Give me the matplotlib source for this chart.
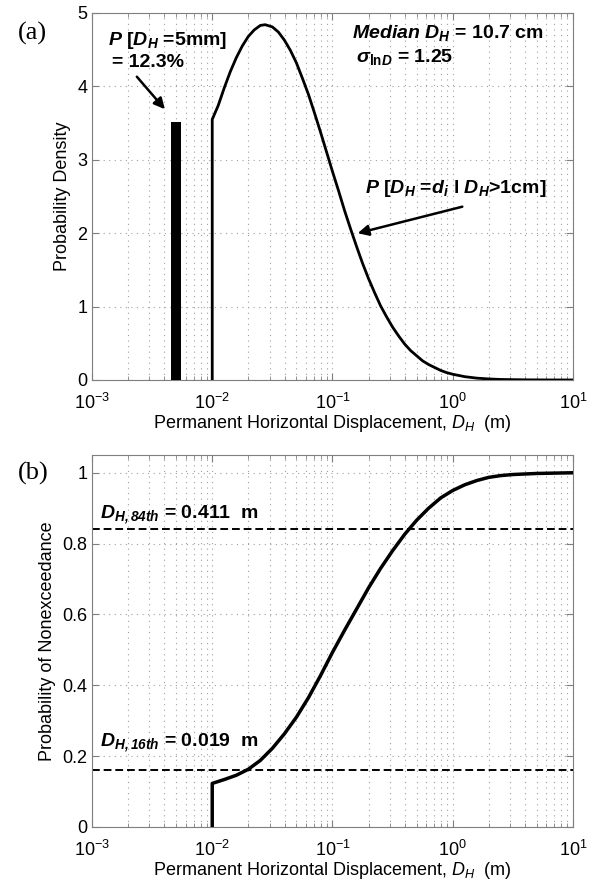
import numpy as np
import matplotlib
matplotlib.use("Agg")
import matplotlib.pyplot as plt
from matplotlib.ticker import LogLocator, NullFormatter

plt.rcParams["font.family"] = ["Liberation Sans", "DejaVu Sans"]
plt.rcParams["mathtext.fontset"] = "custom"
plt.rcParams["mathtext.rm"] = "Liberation Sans"
plt.rcParams["mathtext.it"] = "Liberation Sans:italic"
plt.rcParams["mathtext.bf"] = "Liberation Sans:bold"
plt.rcParams["mathtext.bfit"] = "Liberation Sans:italic:bold"

# (a) probability density
pdf_x = [0.01000, 0.01122, 0.01259, 0.01413, 0.01585, 0.01778, 0.01995, 0.02239,
         0.02512, 0.02754, 0.03162, 0.03548, 0.03981, 0.04467, 0.05012, 0.05623,
         0.06310, 0.07079, 0.07943, 0.08913, 0.1000, 0.1122, 0.1259, 0.1413,
         0.1585, 0.1778, 0.1995, 0.2239, 0.2512, 0.2818, 0.3162, 0.3548, 0.3981,
         0.4467, 0.5012, 0.5623, 0.6310, 0.7079, 0.7943, 0.8913, 1.000, 1.259,
         1.585, 1.995, 2.512, 3.981, 6.310, 10.00]
pdf_y = [3.55, 3.74, 3.98, 4.20, 4.39, 4.55, 4.68, 4.77,
         4.83, 4.84, 4.81, 4.74, 4.63, 4.49, 4.32, 4.11,
         3.89, 3.64, 3.38, 3.11, 2.84, 2.58, 2.31, 2.06,
         1.82, 1.59, 1.38, 1.19, 1.01, 0.86, 0.72, 0.60, 0.49,
         0.40, 0.33, 0.26, 0.21, 0.17, 0.13, 0.10, 0.078, 0.045,
         0.025, 0.014, 0.007, 0.002, 0.0004, 0.0]
bar_x = [0.005]
bar_h = [3.52]
bar_w = [0.00096]

# (b) cumulative distribution
cdf_x = [0.0100, 0.0100, 0.01259, 0.01585, 0.01995, 0.02512, 0.03162, 0.03981,
         0.05012, 0.0631, 0.07943, 0.1000, 0.1259, 0.1585, 0.1995, 0.2512,
         0.3162, 0.3981, 0.5012, 0.631, 0.7943, 1.000, 1.259, 1.585, 1.995,
         2.512, 3.162, 5.012, 10.00]
cdf_y = [0.0, 0.123, 0.134, 0.146, 0.163, 0.188, 0.222, 0.263,
         0.310, 0.365, 0.427, 0.493, 0.555, 0.615, 0.675, 0.730,
         0.780, 0.826, 0.866, 0.900, 0.929, 0.950, 0.966, 0.978, 0.987,
         0.992, 0.995, 0.998, 1.000]
pct_levels = [0.16, 0.84]

xticks = [1e-3, 1e-2, 1e-1, 1e0, 1e1]
fs = 13
afs = 14
spine_c = "#7f7f7f"


def style(ax):
    ax.set_xscale("log")
    ax.set_xlim(1e-3, 1e1)
    ax.set_xticks(xticks)
    ax.xaxis.set_minor_locator(LogLocator(base=10, subs=np.arange(2, 10), numticks=20))
    ax.xaxis.set_minor_formatter(NullFormatter())
    ax.grid(True, which="both", axis="x", ls=(0, (1, 4)), color="#a0a0a0", lw=0.8)
    ax.grid(True, which="major", axis="y", ls=(0, (1, 4)), color="#a0a0a0", lw=0.8)
    ax.tick_params(which="both", direction="in", top=True, right=True,
                   labelsize=fs, color=spine_c)
    ax.tick_params(axis="x", which="major", pad=9)
    ax.tick_params(which="major", length=5)
    ax.tick_params(which="minor", length=3)
    for s in ax.spines.values():
        s.set_color(spine_c)
    ax.set_xlabel(r"Permanent Horizontal Displacement, $\mathit{D_H}$  (m)", fontsize=fs, labelpad=0)


fig = plt.figure(figsize=(6.06, 8.81), dpi=100)
ax1 = fig.add_axes([0.1518, 0.5687, 0.7937, 0.4166])
ax2 = fig.add_axes([0.1518, 0.0613, 0.7937, 0.4222])

# panel (a)
style(ax1)
ax1.set_ylim(0, 5)
ax1.set_yticks(range(6))
ax1.bar(bar_x, bar_h, width=bar_w, color="black", zorder=3)
ax1.plot([pdf_x[0]] + pdf_x, [0] + pdf_y, color="black", lw=2, zorder=3)
ax1.set_ylabel("Probability Density", fontsize=fs, labelpad=4)

ax1.text(0.033, 0.926, r"$\mathbfit{P}$ [$\mathbfit{D_H}$ =5mm]", transform=ax1.transAxes,
         fontsize=afs, fontweight="bold", va="center")
ax1.text(0.042, 0.866, "= 12.3%", transform=ax1.transAxes,
         fontsize=afs, fontweight="bold", va="center")
ax1.text(0.54, 0.946, r"$\mathbfit{Median\ D_H}$ = 10.7 cm", transform=ax1.transAxes,
         fontsize=afs, fontweight="bold", va="center")
ax1.text(0.549, 0.88, r"$\mathbfit{\sigma}_{\mathbf{ln}\mathbfit{D}}$ = 1.25", transform=ax1.transAxes,
         fontsize=afs, fontweight="bold", va="center")
ax1.text(0.568, 0.523, r"$\mathbfit{P}$ [$\mathbfit{D_H}$ =$\mathbfit{d_i}$ l $\mathbfit{D_H}$>1cm]",
         transform=ax1.transAxes, fontsize=afs, fontweight="bold", va="center")
arrow = dict(arrowstyle="-|>", color="black", lw=1.8, mutation_scale=16)
ax1.annotate("", xy=(0.00418, 3.66), xytext=(0.00228, 4.16), arrowprops=arrow)
ax1.annotate("", xy=(0.154, 1.99), xytext=(1.265, 2.37), arrowprops=arrow)

# panel (b)
style(ax2)
ax2.set_ylim(0, 1.05)
ax2.set_yticks([0, 0.2, 0.4, 0.6, 0.8, 1])
ax2.set_yticklabels(["0", "0.2", "0.4", "0.6", "0.8", "1"])
for lv in pct_levels:
    ax2.axhline(lv, color="black", ls=(0, (4, 2)), lw=1.4, zorder=2)
ax2.plot(cdf_x, cdf_y, color="black", lw=2.5, zorder=3)
ax2.set_ylabel("Probability of Nonexceedance", fontsize=fs, labelpad=4)
ax2.text(0.017, 0.841, r"$\mathbfit{D_{H,84th}}$ = 0.411  m", transform=ax2.transAxes,
         fontsize=afs, fontweight="bold", va="center")
ax2.text(0.017, 0.226, r"$\mathbfit{D_{H,16th}}$ = 0.019  m", transform=ax2.transAxes,
         fontsize=afs, fontweight="bold", va="center")

fig.text(18 / 606, 1 - 33 / 881, "(a)", family="Liberation Serif", fontsize=19, va="center")
fig.text(18 / 606, 1 - 473 / 881, "(b)", family="Liberation Serif", fontsize=19, va="center")

fig.savefig("out.png", dpi=100)
